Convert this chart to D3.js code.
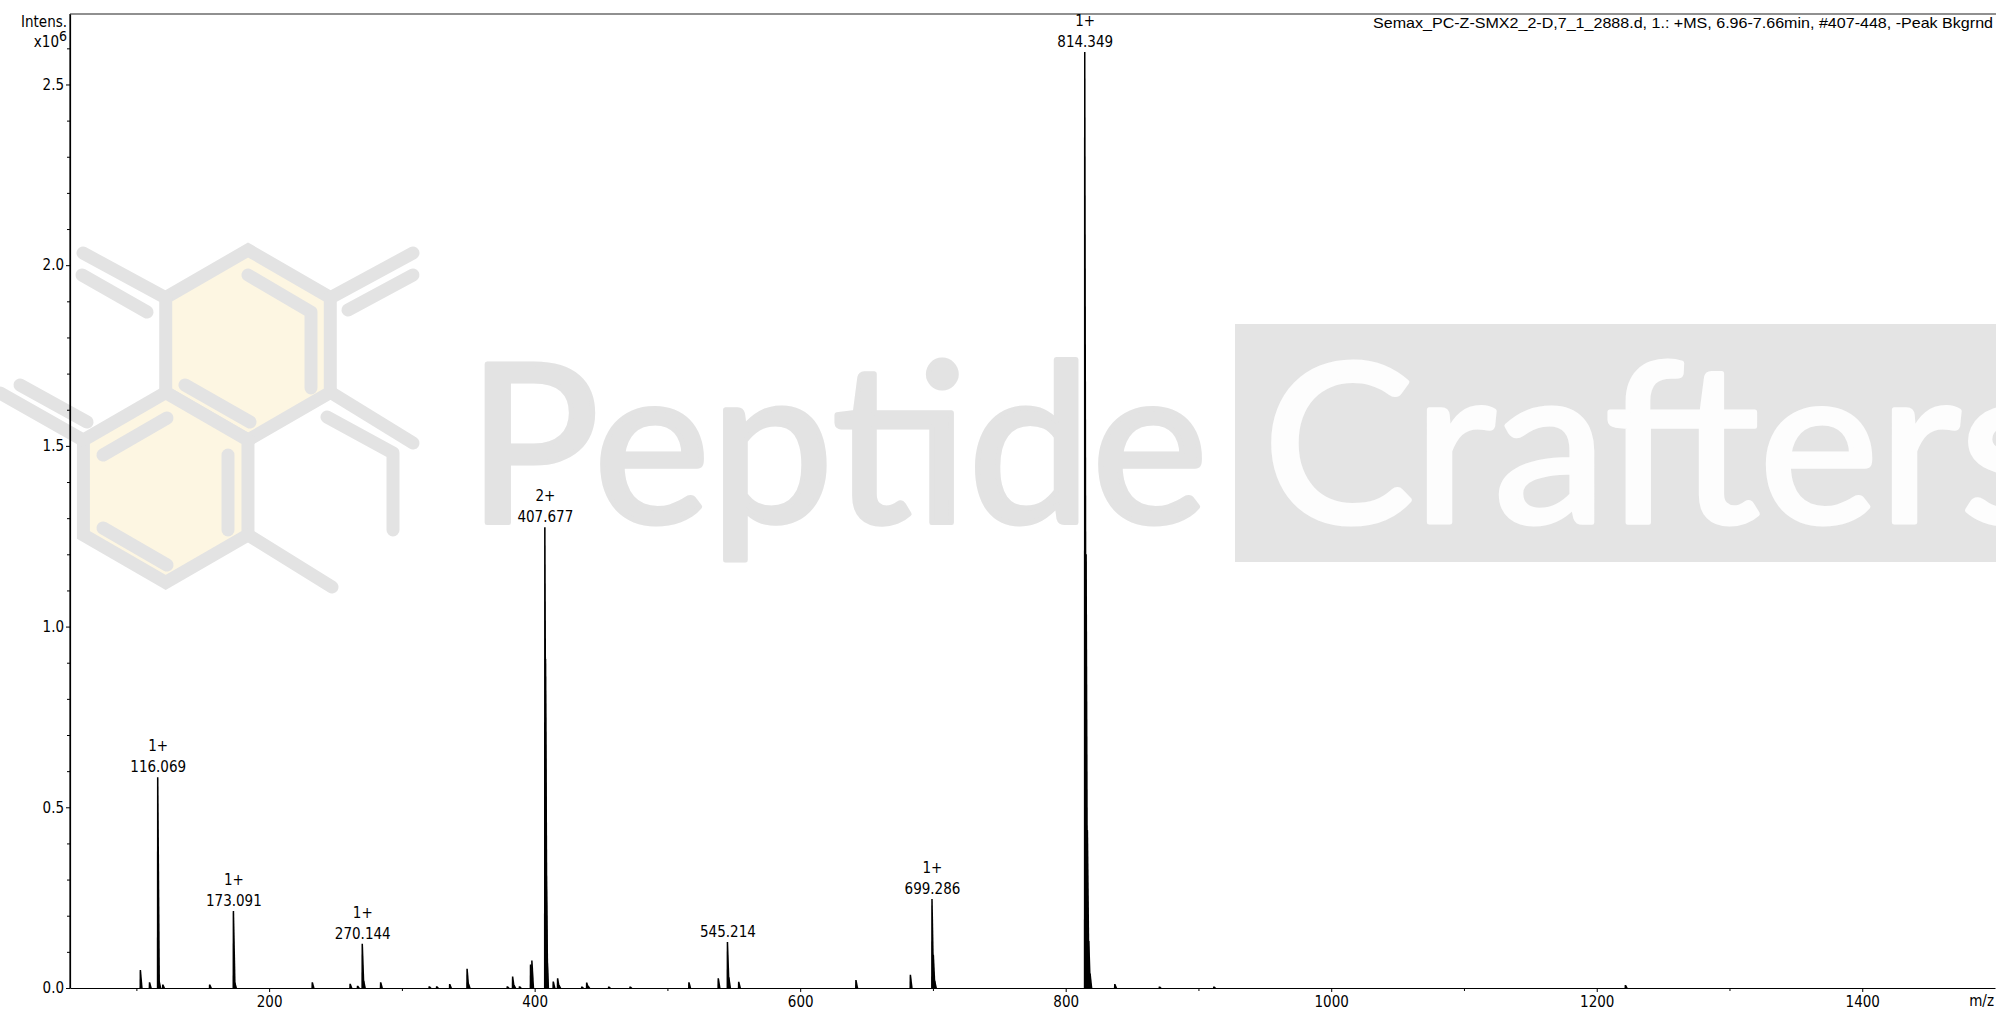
<!DOCTYPE html>
<html>
<head>
<meta charset="utf-8">
<script src="https://cdn.jsdelivr.net/npm/d3@7"></script>
<style>
  body { margin: 0; background: #fff; }
  svg { display: block; }
  .ax text { font-family: "DejaVu Sans Condensed", "Liberation Sans", sans-serif; font-size: 15px; fill: #000; }
  .lbl { font-family: "DejaVu Sans Condensed", "Liberation Sans", sans-serif; font-size: 15px; fill: #000; }
</style>
</head>
<body>
<div id="chart"></div>
<script>
// labelled peaks (m/z, intensity x10^6, charge)
var labelMz = [116.069, 173.091, 270.144, 407.677, 545.214, 699.286, 814.349];
var labelInt = [0.583, 0.213, 0.1226, 1.275, 0.127, 0.246, 2.59];
var labelCharge = ["1+", "1+", "1+", "2+", "", "1+", "1+"];

// isotopes + small peaks (m/z, intensity x10^6)
var minorMz = [103.0, 109.9, 117.07, 119.9, 155.2, 174.09, 232.5, 261.0, 266.6, 271.15, 284.0,
  320.6, 326.2, 336.0, 349.1, 350.1, 379.4, 383.4, 384.4, 388.6, 396.9, 397.9,
  408.178, 408.68, 409.18, 414.0, 417.3, 418.3, 435.5, 439.2, 440.2, 455.8, 471.9,
  516.2, 538.3, 546.22, 553.7, 642.0, 683.0, 700.29, 701.29,
  815.35, 816.35, 817.35, 818.35, 837.0, 870.6, 911.6, 1221.6];
var minorInt = [0.05, 0.016, 0.02, 0.01, 0.01, 0.015, 0.016, 0.012, 0.006, 0.02, 0.016,
  0.005, 0.005, 0.011, 0.053, 0.012, 0.005, 0.032, 0.008, 0.005, 0.065, 0.076,
  0.91, 0.33, 0.1, 0.018, 0.027, 0.008, 0.004, 0.015, 0.006, 0.004, 0.004,
  0.016, 0.027, 0.03, 0.017, 0.022, 0.037, 0.092, 0.02,
  1.2, 0.437, 0.13, 0.04, 0.011, 0.004, 0.004, 0.008];

var xTicks = [200, 400, 600, 800, 1000, 1200, 1400];
var xMinor = [100, 300, 500, 700, 900, 1100, 1300];
var yTicks = [0, 0.5, 1.0, 1.5, 2.0, 2.5];
var yMinor = [0.1, 0.2, 0.3, 0.4, 0.6, 0.7, 0.8, 0.9, 1.1, 1.2, 1.3, 1.4, 1.6, 1.7, 1.8, 1.9, 2.1, 2.2, 2.3, 2.4, 2.6];

var title = "Semax_PC-Z-SMX2_2-D,7_1_2888.d, 1.: +MS, 6.96-7.66min, #407-448, -Peak Bkgrnd";

var width = 1996, height = 1010;
var plotLeft = 70, plotTop = 14, plotBottom = 988;

var svg = d3.select("#chart").append("svg")
  .attr("width", width)
  .attr("height", height);

svg.append("rect").attr("width", width).attr("height", height).attr("fill", "#fff");

var x = d3.scaleLinear().domain([50, 1500]).range([plotLeft, 1995]);
var y = d3.scaleLinear().domain([0, 2.695]).range([plotBottom, plotTop]);

// ---- watermark (behind everything) ----
var wm = svg.append("g");
var grey = "#e3e3e3";

function hex(cx, cy, r) {
  var pts = [];
  for (var k = 0; k < 6; k++) {
    var a = (-90 + 60 * k) * Math.PI / 180;
    pts.push([cx + r * Math.cos(a), cy + r * Math.sin(a)]);
  }
  return "M" + pts.join("L") + "Z";
}
[[248, 345], [165.7, 487.5]].forEach(function (c) {
  wm.append("path").attr("d", hex(c[0], c[1], 95))
    .attr("fill", "#fdf6e2").attr("stroke", grey).attr("stroke-width", 13);
});
var bonds = [
  [[83, 253], [166, 298]], [[82, 275], [147, 312]],
  [[330, 298], [413, 253]], [[348, 310], [413, 275]],
  [[330, 392], [413, 443]], [[327, 417], [393, 453], [393, 530]],
  [[83, 440], [0, 393]], [[20, 385], [87, 422]],
  [[248, 535], [332, 587]],
  [[248, 275], [311, 312], [311, 388]], [[185, 385], [250, 422]],
  [[103, 455], [167, 418]], [[228, 455], [228, 530]], [[103, 528], [167, 565]]
];
wm.selectAll("path.bond").data(bonds).enter().append("path")
  .attr("class", "bond")
  .attr("d", function (d) { return d3.line()(d); })
  .attr("fill", "none").attr("stroke", grey).attr("stroke-width", 13)
  .attr("stroke-linecap", "round").attr("stroke-linejoin", "round");

wm.append("text").attr("x", 467).attr("y", 522)
  .attr("textLength", 741).attr("lengthAdjust", "spacingAndGlyphs")
  .style("font-family", "Lato, 'Open Sans', sans-serif").style("font-weight", 400)
  .style("font-size", "222px").attr("fill", grey)
  .attr("stroke", grey).attr("stroke-width", 5).attr("stroke-linejoin", "round")
  .text("Peptide");
wm.append("rect").attr("x", 1235).attr("y", 324).attr("width", 761).attr("height", 238)
  .attr("fill", "#e4e4e4");
wm.append("text").attr("x", 1263).attr("y", 522)
  .attr("textLength", 795).attr("lengthAdjust", "spacingAndGlyphs")
  .style("font-family", "Lato, 'Open Sans', sans-serif").style("font-weight", 400)
  .style("font-size", "222px").attr("fill", "#fdfdfd")
  .attr("stroke", "#fdfdfd").attr("stroke-width", 5).attr("stroke-linejoin", "round")
  .text("Crafters");

// ---- spectrum ----
var peaks = labelMz.map(function (m, i) { return { mz: m, v: labelInt[i] }; })
  .concat(minorMz.map(function (m, i) { return { mz: m, v: minorInt[i] }; }));

function peakPath(d) {
  var px = x(d.mz), t = y(d.v), b = y(0);
  return "M" + (px - 0.9) + "," + b + "L" + (px - 0.75) + "," + t +
    "L" + (px + 0.75) + "," + t + "L" + (px + 2.3) + "," + b + "Z";
}
svg.append("g").selectAll("path").data(peaks).enter().append("path")
  .attr("d", peakPath).attr("fill", "#000");

// ---- axes ----
svg.append("g").attr("class", "ax").attr("transform", "translate(0," + plotBottom + ")")
  .call(d3.axisBottom(x).tickValues(xTicks).tickSize(4).tickSizeOuter(0).tickPadding(4).tickFormat(d3.format("d")));
svg.append("g").attr("class", "ax").attr("transform", "translate(0," + plotBottom + ")")
  .call(d3.axisBottom(x).tickValues(xMinor).tickSize(3).tickFormat(""))
  .select(".domain").remove();

svg.append("g").attr("class", "ax").attr("transform", "translate(" + plotLeft + ",0)")
  .call(d3.axisLeft(y).tickValues(yTicks).tickSize(4).tickSizeOuter(0).tickPadding(2).tickFormat(d3.format(".1f")));
svg.append("g").attr("class", "ax").attr("transform", "translate(" + plotLeft + ",0)")
  .call(d3.axisLeft(y).tickValues(yMinor).tickSize(3).tickFormat(""))
  .select(".domain").remove();

svg.selectAll(".ax .domain").attr("stroke", "#000").attr("stroke-width", 1.2);
svg.selectAll(".ax line").attr("stroke", "#000");

// y-axis line up to top, top frame line
svg.append("line").attr("x1", plotLeft).attr("x2", plotLeft).attr("y1", plotTop).attr("y2", plotBottom)
  .attr("stroke", "#000").attr("stroke-width", 1.2);
svg.append("line").attr("x1", plotLeft).attr("x2", width).attr("y1", plotTop).attr("y2", plotTop)
  .attr("stroke", "#222").attr("stroke-width", 1.2);

// ---- peak labels ----
var lab = svg.append("g");
labelMz.forEach(function (m, i) {
  var px = x(m) + 0.5, t = y(labelInt[i]);
  lab.append("text").attr("class", "lbl").attr("x", px).attr("y", t - 5)
    .attr("text-anchor", "middle").text(d3.format(".3f")(m));
  if (labelCharge[i]) {
    lab.append("text").attr("class", "lbl").attr("x", px).attr("y", t - 26)
      .attr("text-anchor", "middle").text(labelCharge[i]);
  }
});

// ---- titles ----
svg.append("text").attr("class", "lbl").attr("x", 1993).attr("y", 28)
  .attr("text-anchor", "end").style("font-family", "'Liberation Sans', sans-serif")
  .attr("textLength", 620).attr("lengthAdjust", "spacingAndGlyphs")
  .text(title);
svg.append("text").attr("class", "lbl").attr("x", 67).attr("y", 27)
  .attr("text-anchor", "end").style("font-size", "15px").text("Intens.");
var yl = svg.append("text").attr("class", "lbl").attr("x", 67).attr("y", 47)
  .attr("text-anchor", "end").style("font-size", "15px");
yl.append("tspan").text("x10");
yl.append("tspan").attr("dy", -6).style("font-size", "14px").text("6");
svg.append("text").attr("class", "lbl").attr("x", 1994).attr("y", 1006)
  .attr("text-anchor", "end").text("m/z");
</script>
</body>
</html>
